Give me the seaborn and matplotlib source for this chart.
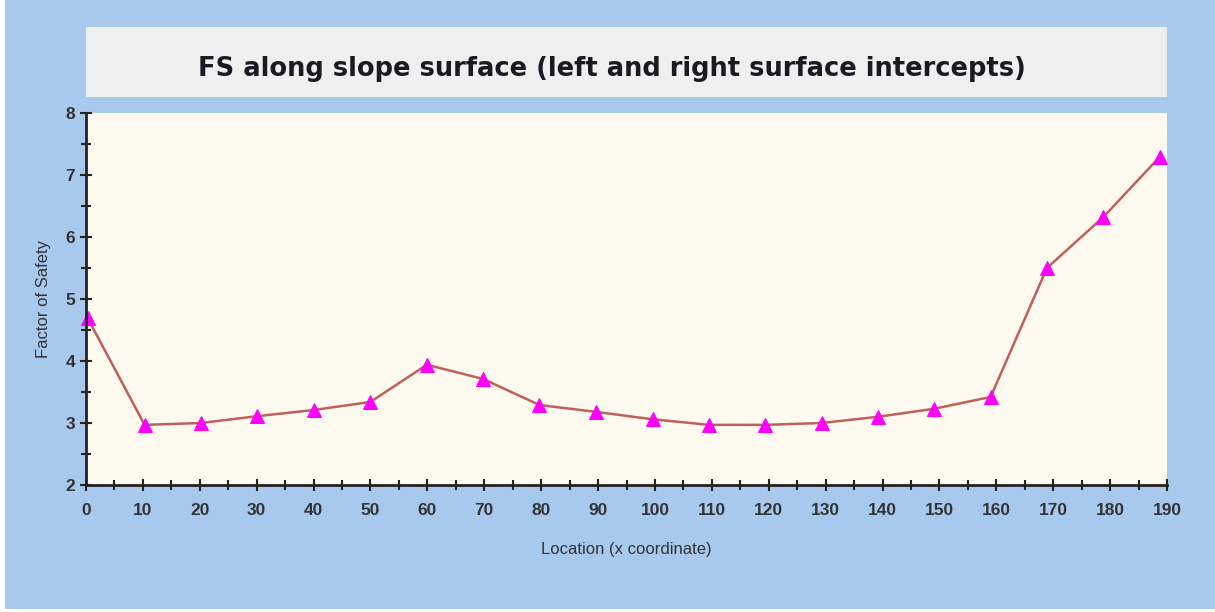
import numpy as np
import pandas as pd
import matplotlib
matplotlib.use("Agg")
import matplotlib.pyplot as plt
import seaborn as sns
from matplotlib.patches import Rectangle
from matplotlib.ticker import MultipleLocator

# data
location = [0.3, 10.3, 20.2, 30.1, 40.1, 50.0, 59.9, 69.8, 79.7, 89.6,
            99.6, 109.5, 119.4, 129.3, 139.2, 149.1, 159.0, 168.9, 178.8, 188.7]
factor_of_safety = [4.69, 2.97, 3.00, 3.11, 3.21, 3.34, 3.94, 3.71, 3.29, 3.18,
                    3.06, 2.97, 2.97, 3.00, 3.10, 3.23, 3.42, 5.50, 6.32, 7.29]
x_ticks = list(range(0, 200, 10))
y_ticks = [2, 3, 4, 5, 6, 7, 8]

title = "FS along slope surface (left and right surface intercepts)"

df = pd.DataFrame({"x": location, "fs": factor_of_safety})

sns.set_style("ticks")
plt.rcParams["font.family"] = ["Liberation Sans", "DejaVu Sans"]

fig = plt.figure(figsize=(12.15, 6.12), dpi=100)
fig.patch.set_facecolor("#A7C9EE")

# thin white margin at left/bottom like the screenshot
fig.patches.append(Rectangle((0, 0), 5 / 1215, 1, transform=fig.transFigure,
                             facecolor="#FFFFFF", edgecolor="none", zorder=-5))
fig.patches.append(Rectangle((0, 0), 1, 3 / 612, transform=fig.transFigure,
                             facecolor="#FFFFFF", edgecolor="none", zorder=-5))
# title box
fig.patches.append(Rectangle((86 / 1215, 1 - 97 / 612), (1167 - 86) / 1215, 70 / 612,
                             transform=fig.transFigure, facecolor="#EFEFEF",
                             edgecolor="none", zorder=-5))
fig.text(612 / 1215, 1 - 69 / 612, title, ha="center", va="center",
         fontsize=18.5, fontweight="bold", color="#1A1A22", family="DejaVu Sans")

ax = fig.add_axes([86 / 1215, 1 - 485 / 612, (1167 - 86) / 1215, (485 - 113) / 612])
ax.set_facecolor("#FFFAF0")

sns.lineplot(data=df, x="x", y="fs", ax=ax, color="#BF605A", linewidth=1.8,
             marker="^", markersize=9.5, markerfacecolor="#FF00FF",
             markeredgecolor="#FF00FF", clip_on=False)

ax.set_xlim(0, 190)
ax.set_ylim(2, 8)
ax.set_xticks(x_ticks)
ax.set_yticks(y_ticks)
ax.xaxis.set_minor_locator(MultipleLocator(5))
ax.yaxis.set_minor_locator(MultipleLocator(0.5))
ax.tick_params(which="both", direction="inout", color="#222222", width=1.5,
               labelsize=12.5, labelcolor="#333333")
ax.tick_params(which="major", length=8)
ax.tick_params(which="minor", length=7)
ax.tick_params(axis="x", pad=9)
ax.tick_params(axis="y", pad=4)
for lab in ax.get_xticklabels() + ax.get_yticklabels():
    lab.set_fontweight("bold")

sns.despine(ax=ax)
for side in ["left", "bottom"]:
    ax.spines[side].set_linewidth(2)
    ax.spines[side].set_color("#222222")

ax.set_xlabel("Location (x coordinate)", fontsize=12, color="#333333", labelpad=17)
ax.set_ylabel("Factor of Safety", fontsize=12, color="#333333", labelpad=10)

fig.savefig("out.png", dpi=100, facecolor=fig.get_facecolor())
